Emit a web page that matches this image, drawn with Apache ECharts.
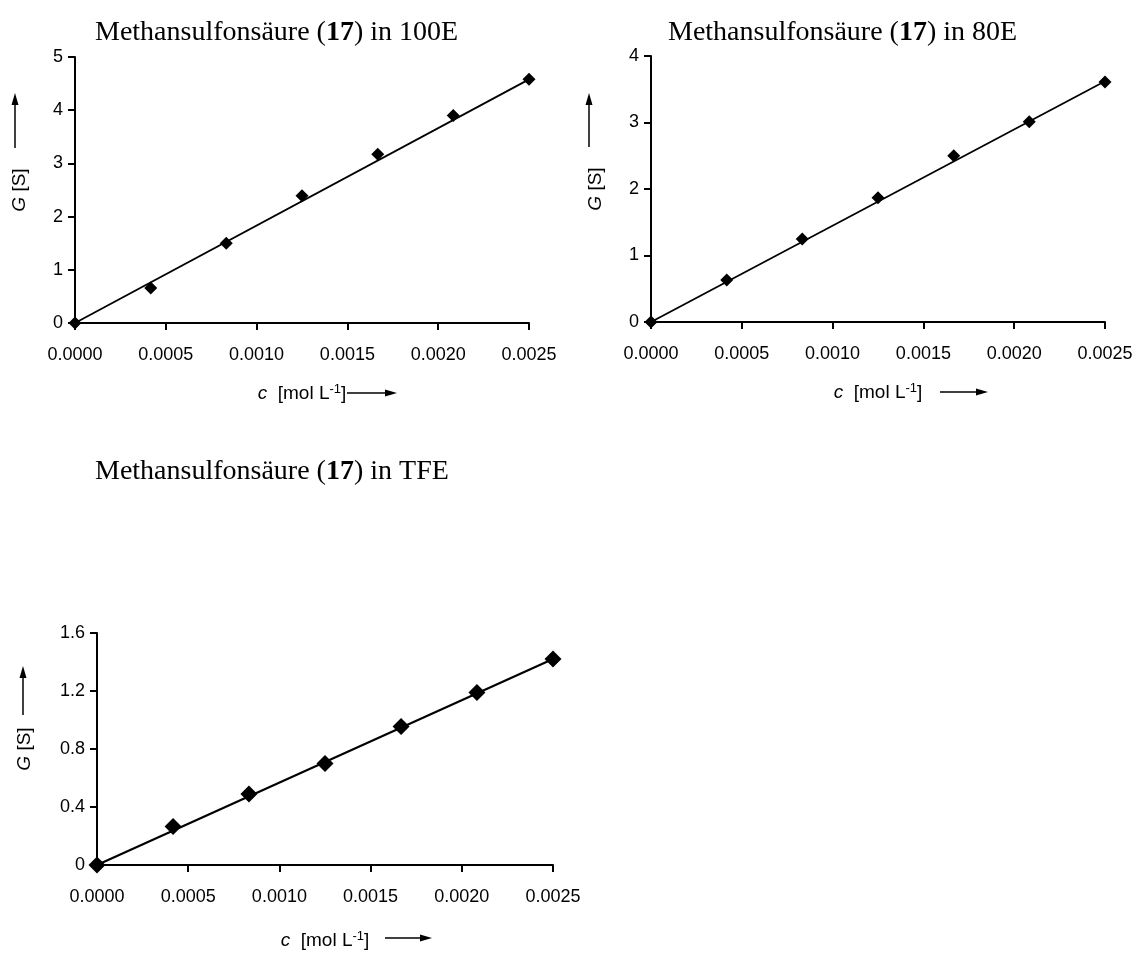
<!DOCTYPE html>
<html>
<head>
<meta charset="utf-8">
<script src="https://cdn.jsdelivr.net/npm/echarts@6/dist/echarts.min.js"></script>
<style>html,body{margin:0;padding:0;background:#fff}#c{width:1139px;height:974px}</style>
</head>
<body>
<div id="c"></div>
<script>
// Data
const conc = [0, 0.000417, 0.000833, 0.00125, 0.001667, 0.002083, 0.0025];
const g100E = [0, 0.66, 1.50, 2.39, 3.17, 3.90, 4.58];
const g80E  = [0, 0.63, 1.25, 1.87, 2.50, 3.01, 3.61];
const gTFE  = [0, 0.265, 0.49, 0.70, 0.955, 1.19, 1.42];
// trend line endpoints
const trendX = [0, 0.0025];
const trend100E = [0, 4.58];
const trend80E = [0, 3.62];
const trendTFE = [0, 1.42];
const titles = ['Methansulfonsäure ({b|17}) in 100E', 'Methansulfonsäure ({b|17}) in 80E', 'Methansulfonsäure ({b|17}) in TFE'];
const xTicks = ['0.0000','0.0005','0.0010','0.0015','0.0020','0.0025'];

const pairs = (xs, ys) => xs.map((x, i) => [x, ys[i]]);
const chart = echarts.init(document.getElementById('c'), null, {renderer: 'canvas'});

const serif = 'Liberation Serif, Times New Roman, serif';
const sans = 'Liberation Sans, Arial, sans-serif';

const grids = [
  {left: 75, top: 57, width: 454, height: 266},
  {left: 651, top: 56, width: 454, height: 266},
  {left: 97, top: 633, width: 456, height: 232}
];
const yCfg = [
  {max: 5, interval: 1, fmt: v => String(v)},
  {max: 4, interval: 1, fmt: v => String(v)},
  {max: 1.6, interval: 0.4, fmt: v => v === 0 ? '0' : v.toFixed(1)}
];
const yNameGap = [46, 46, 63];
const xNameGap = [60, 60, 65];

const xAxis = grids.map((g, i) => ({
  gridIndex: i, type: 'value', min: 0, max: 0.0025, interval: 0.0005,
  axisLine: {show: true, onZero: false, lineStyle: {color: '#000', width: 2}},
  axisTick: {show: true, inside: false, length: 7, lineStyle: {color: '#000', width: 2}},
  splitLine: {show: false},
  axisLabel: {color: '#000', fontFamily: sans, fontSize: 18, margin: 23,
    formatter: v => xTicks[Math.round(v / 0.0005)]},
  name: '{i|c}  [mol L{sup|-1}]', nameLocation: 'middle', nameGap: xNameGap[i],
  nameTextStyle: {color: '#000', fontFamily: sans, fontSize: 19,
    rich: {i: {fontStyle: 'italic', fontFamily: sans, fontSize: 19, color: '#000'},
           sup: {fontSize: 13, fontFamily: sans, color: '#000', verticalAlign: 'top', padding: [0, 0, 9, 0]}}}
}));
const yAxis = grids.map((g, i) => ({
  gridIndex: i, type: 'value', min: 0, max: yCfg[i].max, interval: yCfg[i].interval,
  axisLine: {show: true, lineStyle: {color: '#000', width: 2}},
  axisTick: {show: true, inside: false, length: 7, lineStyle: {color: '#000', width: 2}},
  splitLine: {show: false},
  axisLabel: {color: '#000', fontFamily: sans, fontSize: 18, margin: 12, formatter: yCfg[i].fmt},
  name: '{i|G} [S]', nameLocation: 'middle', nameGap: yNameGap[i],
  nameTextStyle: {color: '#000', fontFamily: sans, fontSize: 19,
    rich: {i: {fontStyle: 'italic', fontFamily: sans, fontSize: 19, color: '#000'}}}
}));

const dataSets = [g100E, g80E, gTFE];
const trends = [trend100E, trend80E, trendTFE];
const symSize = [13, 13, 17];
const lineW = [1.8, 1.8, 2.2];
const series = [];
dataSets.forEach((d, i) => {
  series.push({type: 'line', xAxisIndex: i, yAxisIndex: i, data: pairs(trendX, trends[i]),
    showSymbol: false, symbol: 'none', lineStyle: {color: '#000', width: lineW[i]}, z: 2, silent: true});
  series.push({type: 'scatter', xAxisIndex: i, yAxisIndex: i, data: pairs(conc, d),
    symbol: 'diamond', symbolSize: symSize[i], itemStyle: {color: '#000', opacity: 1}, z: 3});
});

const titleCfg = [
  {left: 90, top: 14},
  {left: 663, top: 14},
  {left: 90, top: 453}
];
const title = titles.map((t, i) => ({
  text: t, left: titleCfg[i].left, top: titleCfg[i].top,
  textStyle: {fontFamily: serif, fontSize: 28, fontWeight: 'normal', color: '#000',
    rich: {b: {fontFamily: serif, fontSize: 28, fontWeight: 'bold', color: '#000'}}}
}));

// axis-name arrows (decorations)
function vArrow(x, y1, y2) {
  return [
    {type: 'line', shape: {x1: x, y1: y1, x2: x, y2: y2 + 8}, style: {stroke: '#000', lineWidth: 1.5}},
    {type: 'polygon', shape: {points: [[x, y2], [x - 3.5, y2 + 12], [x + 3.5, y2 + 12]]}, style: {fill: '#000'}}
  ];
}
function hArrow(x1, x2, y) {
  return [
    {type: 'line', shape: {x1: x1, y1: y, x2: x2 - 8, y2: y}, style: {stroke: '#000', lineWidth: 1.5}},
    {type: 'polygon', shape: {points: [[x2, y], [x2 - 12, y - 3.5], [x2 - 12, y + 3.5]]}, style: {fill: '#000'}}
  ];
}
const graphic = [].concat(
  vArrow(15, 148, 93), vArrow(589, 147, 93), vArrow(23, 715, 666),
  hArrow(347, 397, 393), hArrow(940, 988, 392), hArrow(385, 432, 938)
);

chart.setOption({
  animation: false,
  backgroundColor: '#fff',
  title: title,
  grid: grids,
  xAxis: xAxis,
  yAxis: yAxis,
  series: series,
  graphic: graphic
});
</script>
</body>
</html>
